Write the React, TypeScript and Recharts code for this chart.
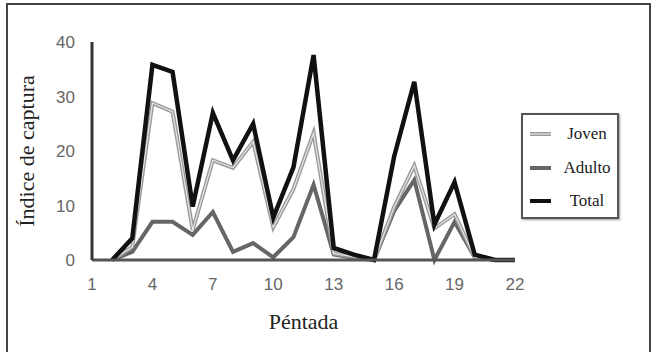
import React from "react";
import { LineChart, Line, XAxis, YAxis } from "recharts";

const pentadas = [2, 3, 4, 5, 6, 7, 8, 9, 10, 11, 12, 13, 14, 15, 16, 17, 18, 19, 20, 21, 22];
const joven = [0, 2.4, 28.8, 27.2, 5.5, 18.3, 16.9, 21.7, 6, 13, 23.3, 1.2, 0.6, 0, 9.7, 17.3, 5.8, 8.4, 0.5, 0, 0];
const adulto = [0, 1.5, 7, 7, 4.6, 8.8, 1.5, 3.1, 0.5, 4.2, 13.8, 1, 0.4, 0, 9, 14.7, 0, 7, 0.5, 0, 0];
const total = [0, 4, 35.8, 34.5, 9.8, 27, 18.3, 25, 7.8, 17, 37.6, 2.2, 1, 0, 19, 32.7, 6.5, 14.3, 1, 0, 0];
const xTicks = [1, 4, 7, 10, 13, 16, 19, 22];
const yTicks = [0, 10, 20, 30, 40];

const series = [
  { key: "joven", name: "Joven", color: "#9a9a9a", inner: "#e6e6e6" },
  { key: "adulto", name: "Adulto", color: "#666666", inner: null },
  { key: "total", name: "Total", color: "#111111", inner: null },
];

const data = pentadas.map((p, i) => ({
  p,
  joven: joven[i],
  adulto: adulto[i],
  total: total[i],
}));

const serif = "'Liberation Serif', 'Times New Roman', serif";
const sans = "'Liberation Sans', Arial, sans-serif";

export default function App() {
  return (
    <div style={{ position: "absolute", left: 0, top: 0, width: 655, height: 352, background: "#fff", overflow: "hidden" }}>
      <div
        style={{
          position: "absolute",
          left: 6,
          top: 3,
          width: 641,
          height: 360,
          border: "2px solid #444",
        }}
      />
      <div style={{ position: "absolute", left: 0, top: 0 }}>
        <LineChart width={655} height={352} data={data} margin={{ top: 42, right: 140, bottom: 40, left: 0 }}>
          <XAxis
            dataKey="p"
            type="number"
            domain={[1, 22]}
            ticks={xTicks}
            interval={0}
            axisLine={{ stroke: "#555", strokeWidth: 3 }}
            tickLine={false}
            tick={{ fill: "#666", fontSize: 17, fontFamily: sans }}
            tickMargin={12}
            height={52}
            label={{ value: "Péntada", position: "insideBottom", offset: 0, dy: 17, fill: "#222", fontSize: 22, fontFamily: serif }}
          />
          <YAxis
            type="number"
            domain={[0, 40]}
            ticks={yTicks}
            interval={0}
            width={92}
            axisLine={{ stroke: "#333", strokeWidth: 3 }}
            tickLine={false}
            tick={{ fill: "#666", fontSize: 17, fontFamily: sans }}
            tickMargin={11}
            label={{ value: "Índice de captura", angle: -90, position: "insideLeft", offset: 32, dx: -6, fill: "#222", fontSize: 22, fontFamily: serif, style: { textAnchor: "middle" } }}
          />
          <Line dataKey="adulto" name="Adulto" stroke="#666666" strokeWidth={4} dot={false} isAnimationActive={false} strokeLinejoin="miter" />
          <Line dataKey="joven" name="Joven" stroke="#9a9a9a" strokeWidth={4} dot={false} isAnimationActive={false} strokeLinejoin="miter" />
          <Line dataKey="joven" name="Joven-inner" legendType="none" stroke="#e6e6e6" strokeWidth={1.2} dot={false} isAnimationActive={false} />
          <Line dataKey="total" name="Total" stroke="#111111" strokeWidth={4.5} dot={false} isAnimationActive={false} strokeLinejoin="miter" />
        </LineChart>
      </div>
      <div
        style={{
          position: "absolute",
          left: 521,
          top: 113,
          width: 94,
          height: 102,
          border: "2px solid #555",
          boxShadow: "1px 1px 2px #999",
          background: "#fff",
        }}
      >
        {series.map((s, i) => (
          <div key={s.key} style={{ position: "absolute", left: 0, top: 7 + i * 33.5, width: 94, height: 24 }}>
            <svg width={24} height={24} style={{ position: "absolute", left: 6, top: 0 }}>
              <line x1={1} y1={12} x2={22} y2={12} stroke={s.color} strokeWidth={4} />
              {s.inner && <line x1={1} y1={12} x2={22} y2={12} stroke={s.inner} strokeWidth={1.2} />}
            </svg>
            <div
              style={{
                position: "absolute",
                left: 36,
                width: 56,
                top: 0,
                lineHeight: "24px",
                textAlign: "center",
                fontFamily: serif,
                fontSize: 17,
                color: "#222",
              }}
            >
              {s.name}
            </div>
          </div>
        ))}
      </div>
    </div>
  );
}
